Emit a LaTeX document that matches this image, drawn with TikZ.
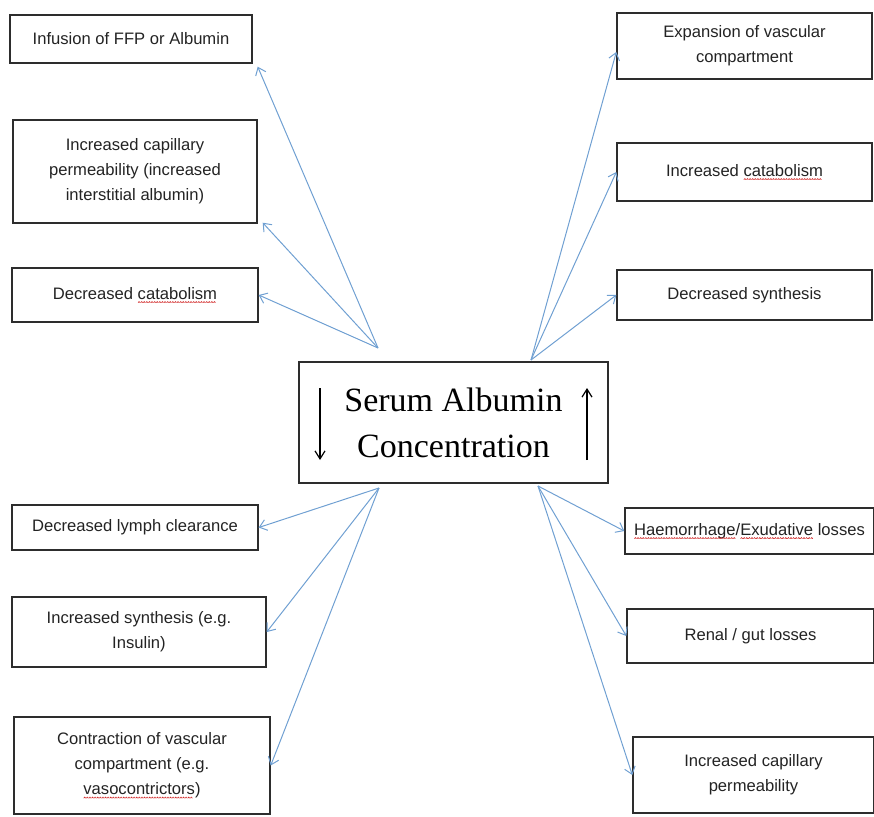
\documentclass[tikz,border=0pt]{standalone}
\usepackage{fontspec}
\setmainfont{Liberation Serif}
\newfontfamily\boxfont{Liberation Sans}
\usetikzlibrary{arrows.meta}

\definecolor{linkblue}{RGB}{112,160,210}
\definecolor{boxgray}{RGB}{45,45,45}
\definecolor{textgray}{RGB}{35,35,35}
\definecolor{squigred}{RGB}{210,45,45}

% red wavy mark under a word
\newcommand{\misspelt}[1]{\setbox0=\hbox{#1}\leavevmode\rlap{\copy0}%
  \raisebox{-4pt}{\hbox to \wd0{\leaders\hbox{\tikz[x=1pt,y=1pt]\draw[squigred,line width=0.6pt] (0,0) -- (1,1.2) -- (2,0);}\hfil}}}

\tikzset{
  box/.style={draw=boxgray,line width=1.4pt,align=center,inner sep=2pt,
    text=textgray,font=\boxfont\fontsize{16.6}{25}\selectfont},
  centrebox/.style={draw=boxgray,line width=1.4pt,align=center,inner sep=0pt,
    font=\fontsize{34}{46}\selectfont},
  link/.style={draw=linkblue,line width=1pt,-{Straight Barb[length=7pt,width=11pt]}},
  updown/.style={draw=black,line width=1.2pt,-{Straight Barb[length=8pt,width=10pt]}}
}

\begin{document}
\begin{tikzpicture}[x=1pt,y=-1pt]
      \useasboundingbox (0,0) rectangle (874,816);

      \node[centrebox,minimum width=309pt,minimum height=121pt] (serum) at (453.5,422.5)
        {Serum Albumin\\Concentration};

      \begin{scope}[every node/.style={box}]
        \node[minimum width=242pt,minimum height=48pt]  (infusion) at (131,39)    {Infusion of FFP or Albumin};
        \node[minimum width=244pt,minimum height=103pt] (leak)     at (135,171.5) {Increased capillary\\permeability (increased\\interstitial albumin)};
        \node[minimum width=246pt,minimum height=54pt]  (lesscat)  at (135,295)   {Decreased \misspelt{catabolism}};
        \node[minimum width=246pt,minimum height=45pt]  (lymph)    at (135,527.5) {Decreased lymph clearance};
        \node[minimum width=254pt,minimum height=70pt]  (moresyn)  at (139,632)   {Increased synthesis (e.g.\\Insulin)};
        \node[minimum width=256pt,minimum height=97pt]  (contract) at (142,765.5) {Contraction of vascular\\compartment (e.g.\\\misspelt{vasocontrictors})};

        \node[minimum width=255pt,minimum height=66pt]  (expand)   at (744.5,46)  {Expansion of vascular\\compartment};
        \node[minimum width=255pt,minimum height=58pt]  (morecat)  at (744.5,172) {Increased \misspelt{catabolism}};
        \node[minimum width=255pt,minimum height=50pt]  (lesssyn)  at (744.5,295) {Decreased synthesis};
        \node[minimum width=249pt,minimum height=46pt]  (bleed)    at (749.5,531) {\misspelt{Haemorrhage}/\misspelt{Exudative} losses};
        \node[minimum width=247pt,minimum height=54pt]  (renal)    at (750.5,636) {Renal / gut losses};
        \node[minimum width=241pt,minimum height=76pt]  (moreleak) at (753.5,775) {Increased capillary\\permeability};
      \end{scope}

      \coordinate (fromNW) at (378,348);
      \coordinate (fromNE) at (531,360);
      \coordinate (fromSW) at (379,488);
      \coordinate (fromSE) at (538,486);

      \coordinate (dntail) at (320,388);
      \coordinate (dnhead) at (320,460);
      \coordinate (uptail) at (587,460);
      \coordinate (uphead) at (587,388);

      \draw[updown] (dntail) -- (dnhead);
      \draw[updown] (uptail) -- (uphead);

      \begin{scope}[every edge/.style={link}]
        \path (fromNW) edge ([shift={(5,3)}]infusion.south east);
        \path (fromNW) edge ([shift={(5,-1)}]leak.south east);
        \path (fromNW) edge (lesscat.east);
        \path (fromNE) edge ([shift={(0,6)}]expand.west);
        \path (fromNE) edge (morecat.west);
        \path (fromNE) edge (lesssyn.west);
        \path (fromSW) edge (lymph.east);
        \path (fromSW) edge (moresyn.east);
        \path (fromSW) edge (contract.east);
        \path (fromSE) edge (bleed.west);
        \path (fromSE) edge (renal.west);
        \path (fromSE) edge (moreleak.west);
      \end{scope}

    \end{tikzpicture}
\end{document}
